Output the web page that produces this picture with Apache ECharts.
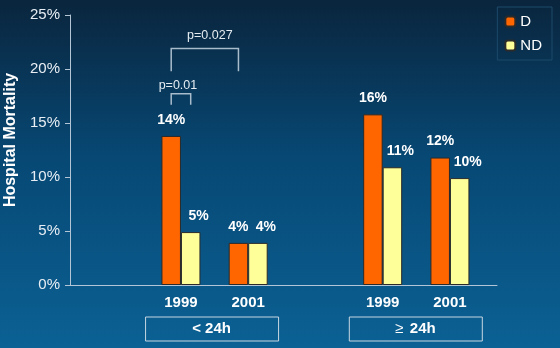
<!DOCTYPE html>
<html>
<head>
<meta charset="utf-8">
<script src="https://cdn.jsdelivr.net/npm/echarts@6/dist/echarts.min.js"></script>
<style>
  html, body { margin: 0; padding: 0; }
  #chart { width: 560px; height: 348px; }
</style>
</head>
<body>
<div id="chart"></div>
<script>
// data
var years = ['1999', '2001', '1999', '2001'];
var groups = ['< 24h', '24h'];
var dValues = [13.8, 3.9, 15.8, 11.8];
var ndValues = [4.9, 3.9, 10.9, 9.9];
var yTicks = [0, 5, 10, 15, 20, 25];

// layout: where each year sits on the (hidden) x scale
var slots = [1.65, 2.65, 4.65, 5.65];
var barW = 19.5;
var lineColor = '#b4c6d6';

var chart = echarts.init(document.getElementById('chart'));

chart.setOption({
    animation: false,
    backgroundColor: new echarts.graphic.LinearGradient(0, 0, 0, 1, [
        {offset: 0, color: '#0a253d'},
        {offset: 0.45, color: '#074874'},
        {offset: 1, color: '#0b6194'}
    ]),
    textStyle: {fontFamily: 'Liberation Sans, Arial, sans-serif'},
    legend: {
        orient: 'vertical',
        right: 8,
        top: 7,
        padding: [7, 10, 7, 7],
        itemWidth: 10,
        itemHeight: 10,
        itemGap: 9,
        borderColor: '#1c4a6a',
        borderWidth: 1,
        textStyle: {color: '#ffffff', fontSize: 15},
        data: ['D', 'ND']
    },
    grid: {left: 70, right: 63, top: 15, bottom: 63, containLabel: false, outerBoundsMode: 'none'},
    xAxis: {
        type: 'value',
        min: 0,
        max: 6.35,
        splitLine: {show: false},
        axisTick: {show: false},
        axisLine: {show: true, lineStyle: {color: lineColor}},
        axisLabel: {
            customValues: slots,
            margin: 10,
            color: '#ffffff',
            fontSize: 15,
            fontWeight: 'bold',
            formatter: function (v) {
                var i = slots.indexOf(v);
                return i >= 0 ? years[i] : '';
            }
        }
    },
    yAxis: {
        type: 'value',
        min: yTicks[0],
        max: yTicks[yTicks.length - 1],
        interval: 5,
        name: 'Hospital Mortality',
        nameLocation: 'middle',
        nameRotate: 90,
        nameGap: 46,
        nameTextStyle: {color: '#ffffff', fontSize: 16, fontWeight: 'bold', padding: [0, 0, 0, 20]},
        splitLine: {show: false},
        axisLine: {show: true, lineStyle: {color: lineColor}},
        axisTick: {show: true, inside: false, length: 5, lineStyle: {color: lineColor}},
        axisLabel: {color: '#e8eef4', fontSize: 15, margin: 10, formatter: '{value}%'}
    },
    series: [
        {
            name: 'D',
            type: 'bar',
            barWidth: barW,
            barGap: '0%',
            itemStyle: {color: '#ff6600', borderColor: '#2a2a2a', borderWidth: 1},
            label: {
                show: true,
                position: 'top',
                distance: 9,
                color: '#ffffff',
                fontSize: 14,
                fontWeight: 'bold',
                formatter: function (p) { return Math.round(p.value[1]) + '%'; }
            },
            data: dValues.map(function (v, i) { return [slots[i], v]; })
        },
        {
            name: 'ND',
            type: 'bar',
            barWidth: barW,
            barGap: '0%',
            itemStyle: {color: '#ffff99', borderColor: '#2a2a2a', borderWidth: 1},
            label: {
                show: true,
                position: 'top',
                distance: 9,
                offset: [8, 0],
                color: '#ffffff',
                fontSize: 14,
                fontWeight: 'bold',
                formatter: function (p) { return Math.round(p.value[1]) + '%'; }
            },
            data: ndValues.map(function (v, i) { return [slots[i], v]; })
        }
    ]
});

// annotations placed from the axes
function px(x, y) {
    return chart.convertToPixel({xAxisIndex: 0, yAxisIndex: 0}, [x, y]);
}
var half = barW / 2;
var elements = [];
var font = 'Liberation Sans, Arial, sans-serif';

// group boxes under the year labels
var boxShift = [-3, -1];
[[0, 1], [2, 3]].forEach(function (pair, g) {
    var a = px(slots[pair[0]], 0), b = px(slots[pair[1]], 0);
    var cx = (a[0] + b[0]) / 2 + boxShift[g];
    elements.push({
        type: 'rect',
        shape: {x: cx - 66, y: a[1] + 32, width: 133, height: 24},
        style: {fill: 'none', stroke: '#c8d6e2', lineWidth: 1}
    });
    var txt = g === 1
        ? {text: '{op|\u2265}  {b|' + groups[g] + '}',
           rich: {op: {font: '15px ' + font, fill: '#ffffff'}, b: {font: 'bold 15px ' + font, fill: '#ffffff'}}}
        : {text: groups[g], font: 'bold 15px ' + font};
    txt.fill = '#ffffff';
    txt.align = 'center';
    txt.verticalAlign = 'middle';
    elements.push({type: 'text', x: cx, y: a[1] + 44, style: txt});
});

// significance brackets: D 1999 vs ND 1999, D 1999 vs D 2001
var brackets = [
    {text: 'p=0.01', x1: slots[0], off1: -half, x2: slots[0], off2: half, top: 17.7, leg: 16.7, dx: -3, dy: -8},
    {text: 'p=0.027', x1: slots[0], off1: -half, x2: slots[1], off2: -half, top: 21.9, leg: 19.8, dx: 5, dy: -13}
];
brackets.forEach(function (b) {
    var p1 = px(b.x1, b.top), p2 = px(b.x2, b.top), q = px(b.x1, b.leg);
    var xa = p1[0] + b.off1, xb = p2[0] + b.off2;
    elements.push({
        type: 'polyline',
        shape: {points: [[xa, q[1]], [xa, p1[1]], [xb, p1[1]], [xb, q[1]]]},
        style: {fill: 'none', stroke: '#a8bccc', lineWidth: 1.5}
    });
    elements.push({
        type: 'text',
        x: (xa + xb) / 2 + b.dx, y: p1[1] + b.dy,
        style: {
            text: b.text, fill: '#e4ecf2', font: '12.5px ' + font,
            align: 'center', verticalAlign: 'middle'
        }
    });
});

chart.setOption({graphic: elements});
</script>
</body>
</html>
